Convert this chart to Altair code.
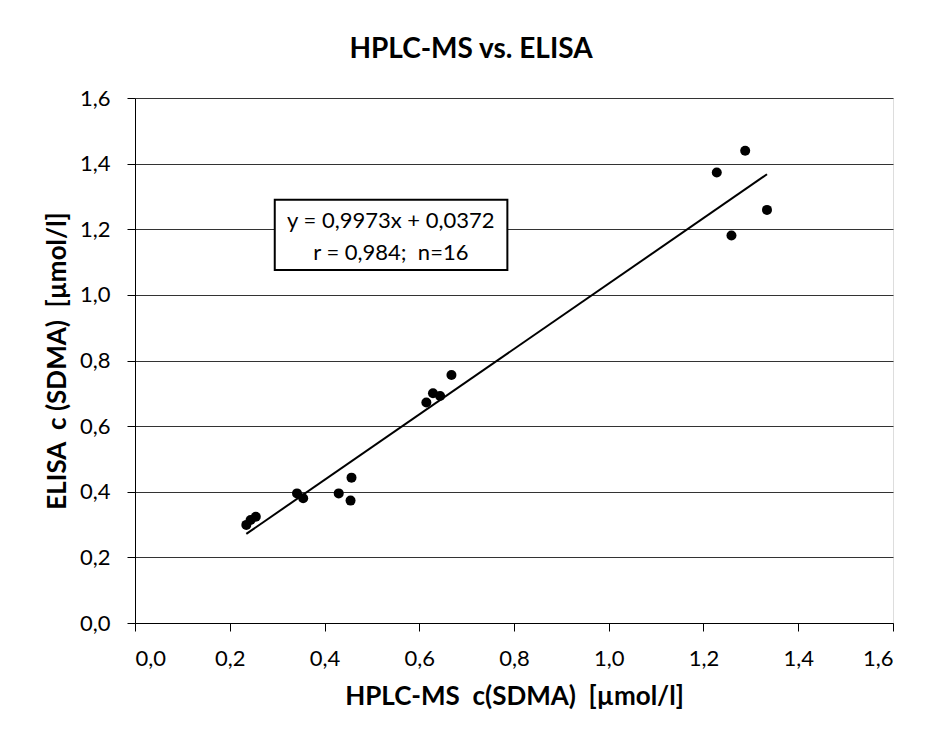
import altair as alt
import pandas as pd

hplc_ms = [0.235, 0.244, 0.255, 0.342, 0.355, 0.430, 0.457, 0.455,
           0.615, 0.629, 0.644, 0.668, 1.228, 1.288, 1.259, 1.334]
elisa = [0.299, 0.314, 0.324, 0.395, 0.380, 0.395, 0.443, 0.373,
         0.672, 0.700, 0.692, 0.756, 1.373, 1.439, 1.181, 1.259]

# Regression line shown on the chart
slope = 0.9973
intercept = 0.0372
fit_x = [min(hplc_ms), max(hplc_ms)]

# Annotation box (data coordinates) and text
box_x = [0.295, 0.786]
box_y = [1.076, 1.290]
label_x = [0.540, 0.540]
label_y = [1.226, 1.128]
label_text = ["y = 0,9973x + 0,0372", "r = 0,984;  n=16"]

FONT = "Lato"

pts = pd.DataFrame({"x": hplc_ms, "y": elisa})
fit = pd.DataFrame({"x": fit_x, "y": [slope * v + intercept for v in fit_x]})
box = pd.DataFrame({"x": [box_x[0]], "x2": [box_x[1]], "y": [box_y[0]], "y2": [box_y[1]]})
lab = pd.DataFrame({"x": label_x, "y": label_y, "t": [s.replace("  ", "\u00a0 ") for s in label_text]})

fmt = "replace(format(datum.value, '.1f'), '.', ',')"
ticks = [0, 0.2, 0.4, 0.6, 0.8, 1.0, 1.2, 1.4, 1.6]
xscale = alt.Scale(domain=[0, 1.6], nice=False, zero=True)
yscale = alt.Scale(domain=[0, 1.6], nice=False, zero=True)

xaxis = alt.Axis(values=ticks, labelExpr=fmt,
                 grid=False, tickSize=8, tickColor="black", domainColor="black",
                 labelFontSize=22, labelFont=FONT, labelColor="black", labelPadding=17,
                 title="HPLC-MS\u00a0 c(SDMA)\u00a0 [µmol/l]", titleFontSize=26, titleFont=FONT,
                 titleFontWeight="bold", titleColor="black", titlePadding=14)
yaxis = alt.Axis(values=ticks, labelExpr=fmt,
                 grid=True, gridColor="#333333", gridWidth=1, tickSize=8, tickColor="black",
                 domainColor="black", labelFontSize=22, labelFont=FONT, labelColor="black",
                 labelPadding=17,
                 title="ELISA\u00a0 c (SDMA)\u00a0 [µmol/l]", titleFontSize=26, titleFont=FONT,
                 titleFontWeight="bold", titleColor="black", titlePadding=9)

points = alt.Chart(pts).mark_circle(size=100, color="black", opacity=1).encode(
    x=alt.X("x:Q", scale=xscale, axis=xaxis),
    y=alt.Y("y:Q", scale=yscale, axis=yaxis),
)
line = alt.Chart(fit).mark_line(color="black", strokeWidth=2).encode(
    x=alt.X("x:Q", scale=xscale), y=alt.Y("y:Q", scale=yscale)
)
rect = alt.Chart(box).mark_rect(fill="white", stroke="black", strokeWidth=2).encode(
    x=alt.X("x:Q", scale=xscale), x2="x2:Q",
    y=alt.Y("y:Q", scale=yscale), y2="y2:Q",
)
text = alt.Chart(lab).mark_text(fontSize=22, font=FONT, color="black", align="center",
                                baseline="middle").encode(
    x=alt.X("x:Q", scale=xscale), y=alt.Y("y:Q", scale=yscale), text="t:N"
)

chart = alt.layer(points, line, rect, text).properties(
    width=758, height=525,
    title=alt.TitleParams("HPLC-MS vs. ELISA", fontSize=28, font=FONT, fontWeight="bold",
                          color="black", anchor="middle", dx=-43, offset=23),
    autosize=alt.AutoSizeParams(type="none"),
    padding={"left": 127, "top": 90, "right": 25, "bottom": 100},
).configure_view(stroke="black", strokeWidth=2).configure(background="white")

chart.save("out.html", embed_options={"renderer": "svg", "actions": False})
